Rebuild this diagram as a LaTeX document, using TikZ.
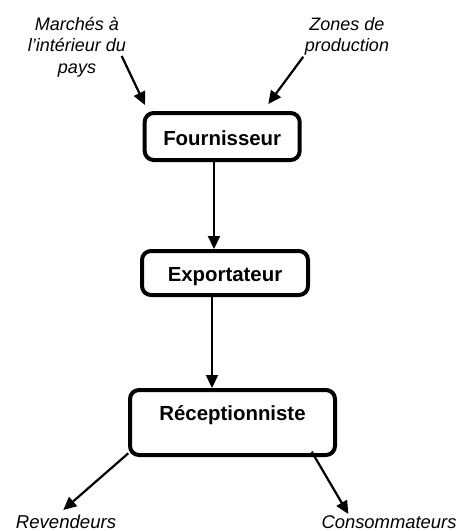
\documentclass[tikz,border=0pt]{standalone}
\usepackage{fontspec}
\setmainfont{Liberation Sans}
\usetikzlibrary{arrows.meta}
\begin{document}
\begin{tikzpicture}[x=1pt,y=-1pt,
  box/.style={draw,line width=4pt,rounded corners=9pt,inner sep=0pt,
    font=\fontsize{20.4}{24}\selectfont\bfseries,anchor=base,align=center},
  lab/.style={font=\fontsize{18}{21.7}\selectfont\itshape,align=center,inner sep=0pt,anchor=base},
  arr/.style={line width=2.2pt,-{Triangle[length=13pt,width=12pt]}}]
\useasboundingbox (0,0) rectangle (469,531);
\node[box,minimum width=155pt,text height=32pt,text depth=15pt] (F) at (222.2,145) {Fournisseur};
\node[box,minimum width=166pt,text height=30.7pt,text depth=13.3pt] (E) at (225,281.7) {Exportateur};
\node[box,minimum width=205pt,text height=30.7pt,text depth=34.3pt] (R) at (232.5,420.7) {Réceptionniste};
\node[lab] (M) at (77,73.4) {Marchés à\\l’intérieur du\\pays};
\node[lab] (Z) at (347,51.7) {Zones de\\production};
\node[lab,font=\fontsize{18.6}{22}\selectfont\itshape] (V) at (66,528) {Revendeurs};
\node[lab,font=\fontsize{18.4}{22}\selectfont\itshape] (C) at (389,528) {Consommateurs};
\coordinate (m1) at (121.7,56);
\coordinate (m2) at (145,105);
\coordinate (z1) at (303.3,56.7);
\coordinate (z2) at (268.3,104);
\coordinate (v1) at (128.3,453.3);
\coordinate (v2) at (63.3,510);
\coordinate (c1) at (311.7,451.7);
\coordinate (c2) at (348.3,514);
\draw[arr] (m1) -- (m2);
\draw[arr] (z1) -- (z2);
\draw[arr] ([xshift=-8.2pt]F.south) -- ([xshift=-11pt]E.north);
\draw[arr] ([xshift=-13pt]E.south) -- ([xshift=-20.5pt]R.north);
\draw[arr] (v1) -- (v2);
\draw[arr] (c1) -- (c2);
\end{tikzpicture}
\end{document}
